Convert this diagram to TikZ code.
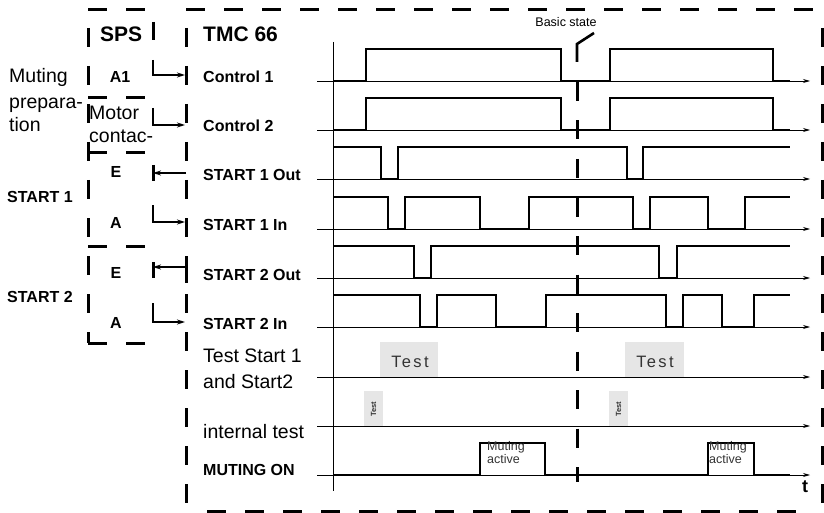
\documentclass[tikz,border=0pt]{standalone}
\usepackage{fontspec}
\setmainfont{Liberation Sans}
\newfontfamily\spacedfont[LetterSpace=14]{Liberation Sans}
\usetikzlibrary{arrows.meta}
\definecolor{testgray}{HTML}{E6E6E6}
\definecolor{txtgray}{HTML}{333333}
\begin{document}
\begin{tikzpicture}[x=1pt,y=-1pt,
  frame/.style={line width=3pt, dash pattern=on 19pt off 19pt},
  axisline/.style={line width=0.8pt, -{Stealth[length=7pt,width=4pt]}},
  trace/.style={line width=2.6pt, line join=miter},
  conn/.style={line width=2.4pt, -{Stealth[length=8pt,width=5pt]}},
  piece/.style={line width=3pt},
  lbl/.style={anchor=base west, inner sep=0pt, font=\bfseries\fontsize{16}{16}\selectfont},
  plain/.style={anchor=base west, inner sep=0pt, font=\fontsize{19.5}{20}\selectfont},
  head/.style={anchor=base west, inner sep=0pt, font=\bfseries\fontsize{21}{21}\selectfont},
  spsl/.style={anchor=base, inner sep=0pt, font=\bfseries\fontsize{16}{16}\selectfont},
  testbox/.style={fill=testgray, draw=none},
  mutetxt/.style={anchor=north west, inner sep=0pt, align=left, text=txtgray, font=\fontsize{12.5}{13}\selectfont}
]
\useasboundingbox (0,0) rectangle (824,513);

% ---------- frames ----------
\draw[frame] (88,10) -- (153,10);
\draw[frame] (186,10) -- (824,10);
\draw[frame] (822,28) -- (822,513);
\draw[frame] (207,511) -- (810,511);
\draw[frame] (186,28) -- (186,512);
\draw[frame] (88,28) -- (88,343);
\draw[frame] (88,98) -- (153,98);
\draw[frame] (88,153) -- (153,153);
\draw[frame] (88,246) -- (153,246);
\draw[frame] (88,343) -- (153,343);
\draw[piece] (153,22) -- (153,40);

% ---------- headings ----------
\node[head] (sps) at (100,42) {SPS};
\node[head] (tmc) at (203,42) {TMC 66};

% ---------- left labels ----------
\node[plain] (mut1) at (9,83) {Muting};
\node[plain] (mut2) at (9,109) {prepara-};
\node[plain] (mut3) at (9,132) {tion};
\node[plain] (mot1) at (89,120) {Motor};
\node[plain] (mot2) at (89,143) {contac-};
\node[lbl] (st1) at (7,203) {START 1};
\node[lbl] (st2) at (7,302) {START 2};
\node[spsl] (a1) at (120,83) {A1};
\node[spsl] (e1) at (116,178) {E};
\node[spsl] (aa1) at (116,228) {A};
\node[spsl] (e2) at (116,278) {E};
\node[spsl] (aa2) at (116,328) {A};

% ---------- TMC labels ----------
\node[lbl] (c1) at (203,83) {Control 1};
\node[lbl] (c2) at (203,132) {Control 2};
\node[lbl] (s1o) at (203,181) {START 1 Out};
\node[lbl] (s1i) at (203,230) {START 1 In};
\node[lbl] (s2o) at (203,280) {START 2 Out};
\node[lbl] (s2i) at (203,329) {START 2 In};
\node[plain] (ts1) at (203,362) {Test Start 1};
\node[plain] (ts2) at (203,388) {and Start2};
\node[plain] (it) at (203,438) {internal test};
\node[lbl] (mon) at (203,475) {MUTING ON};

% ---------- connectors ----------
\coordinate (a1s) at (153,60);  \coordinate (a1t) at (185,75);
\coordinate (c2s) at (153,108); \coordinate (c2t) at (185,125);
\coordinate (e1s) at (186,173); \coordinate (e1t) at (153,173);
\coordinate (i1s) at (153,205); \coordinate (i1t) at (185,222);
\coordinate (e2s) at (186,267); \coordinate (e2t) at (153,267);
\coordinate (i2s) at (153,303); \coordinate (i2t) at (185,322);
\draw[conn] (a1s) |- (a1t);
\draw[conn] (c2s) |- (c2t);
\draw[conn] (e1s) -- (e1t);
\draw[piece] (153,165) -- (153,181);
\draw[conn] (i1s) |- (i1t);
\draw[conn] (e2s) -- (e2t);
\draw[piece] (153,262) -- (153,278);
\draw[piece] (186,259) -- (186,283);
\draw[conn] (i2s) |- (i2t);

% ---------- test boxes ----------
\node[testbox, minimum width=58pt, minimum height=35pt, inner sep=0pt] (tb1) at (409,359.5) {};
\node[testbox, minimum width=59pt, minimum height=35pt, inner sep=0pt] (tb2) at (654.5,359.5) {};
\node[text=txtgray, font=\spacedfont\fontsize{16.5}{16}\selectfont, inner sep=0pt] at (410,362) {Test};
\node[text=txtgray, font=\spacedfont\fontsize{16.5}{16}\selectfont, inner sep=0pt] at (655,362) {Test};
\node[testbox, minimum width=19pt, minimum height=36pt, inner sep=0pt] (ib1) at (373.5,409) {};
\node[testbox, minimum width=19pt, minimum height=36pt, inner sep=0pt] (ib2) at (618.5,409) {};
\node[rotate=90, text=txtgray, font=\bfseries\fontsize{7.5}{8}\selectfont, inner sep=0pt] at (373.5,409) {Test};
\node[rotate=90, text=txtgray, font=\bfseries\fontsize{7.5}{8}\selectfont, inner sep=0pt] at (618.5,409) {Test};

% ---------- axes ----------
\foreach \r in {81,130,179,229,278,327,377,426,475}
  \draw[axisline] (317,\r) -- (810,\r);
\draw[line width=0.8pt] (333,42) -- (333,491);
\node[anchor=base, inner sep=0pt, font=\bfseries\fontsize{18}{18}\selectfont] (tt) at (805,492) {t};

% ---------- basic state ----------
\node[anchor=base, inner sep=0pt, font=\fontsize{12.5}{13}\selectfont] (bs) at (566,27) {Basic state};
\draw[line width=2.6pt] (577,62) -- (577,44) -- (594,33);
\draw[line width=3pt, dash pattern=on 19pt off 19.5pt] (577,82) -- (577,482);

% ---------- traces ----------
\draw[trace] (333,81)--(366,81)--(366,49)--(561,49)--(561,81)--(610,81)--(610,49)--(773,49)--(773,81)--(790,81);
\draw[trace] (333,130)--(366,130)--(366,98)--(561,98)--(561,130)--(610,130)--(610,98)--(773,98)--(773,130)--(790,130);
\draw[trace] (333,147)--(381,147)--(381,179)--(398,179)--(398,147)--(627,147)--(627,179)--(643,179)--(643,147)--(790,147);
\draw[trace] (333,197)--(388,197)--(388,229)--(405,229)--(405,197)--(480,197)--(480,229)--(529,229)--(529,197)--(633,197)--(633,229)--(650,229)--(650,197)--(708,197)--(708,229)--(745,229)--(745,197)--(790,197);
\draw[trace] (333,246)--(414,246)--(414,278)--(431,278)--(431,246)--(659,246)--(659,278)--(677,278)--(677,246)--(790,246);
\draw[trace] (333,295)--(420,295)--(420,327)--(437,327)--(437,295)--(496,295)--(496,327)--(546,327)--(546,295)--(666,295)--(666,327)--(683,327)--(683,295)--(722,295)--(722,327)--(754,327)--(754,295)--(790,295);
\draw[trace] (333,475)--(480,475)--(480,443)--(545,443)--(545,475)--(708,475)--(708,443)--(754,443)--(754,475)--(790,475);

\node[mutetxt] (ma1) at (487,441) {Muting\\active};
\node[mutetxt] (ma2) at (709,441) {Muting\\active};
\end{tikzpicture}
\end{document}
